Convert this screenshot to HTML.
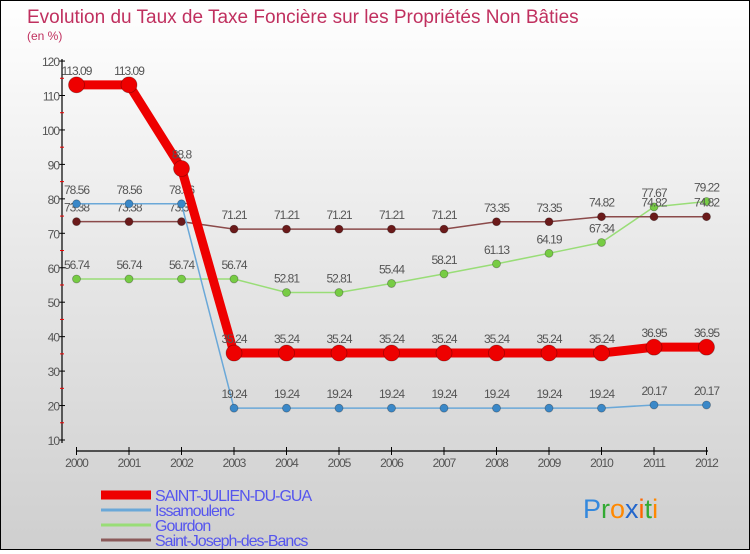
<!DOCTYPE html>
<html><head><meta charset="utf-8">
<style>
body{margin:0;width:750px;height:550px;overflow:hidden;font-family:"Liberation Sans",sans-serif;}
#wrap{position:relative;width:748px;height:548px;border:1px solid #000;background:linear-gradient(#ffffff 0%,#e6e6e6 50%,#cfcfcf 100%);}
</style></head>
<body>
<div id="wrap">
<svg id="chart" width="748" height="548"></svg>
</div>
<script>
const years=[2000,2001,2002,2003,2004,2005,2006,2007,2008,2009,2010,2011,2012];
const yTicks=[10,20,30,40,50,60,70,80,90,100,110,120];
const stJulien=[113.09,113.09,88.8,35.24,35.24,35.24,35.24,35.24,35.24,35.24,35.24,36.95,36.95];
const issamoulenc=[78.56,78.56,78.56,19.24,19.24,19.24,19.24,19.24,19.24,19.24,19.24,20.17,20.17];
const gourdon=[56.74,56.74,56.74,56.74,52.81,52.81,55.44,58.21,61.13,64.19,67.34,77.67,79.22];
const stJoseph=[73.38,73.38,73.38,71.21,71.21,71.21,71.21,71.21,73.35,73.35,74.82,74.82,74.82];
const seriesNames=["SAINT-JULIEN-DU-GUA","Issamoulenc","Gourdon","Saint-Joseph-des-Bancs"];

const NS="http://www.w3.org/2000/svg";
const svg=document.getElementById('chart');
function X(i){return 75.5+i*52.5;}
function Y(v){return 439-(v-10)*3.445;}
function mk(tag,attrs,parent){const e=document.createElementNS(NS,tag);for(const k in attrs)e.setAttribute(k,attrs[k]);(parent||svg).appendChild(e);return e;}
function txt(s,x,y,attrs,name){const t=mk('text',Object.assign({x:x,y:y,'font-family':'Liberation Sans, sans-serif'},attrs));t.textContent=s;

return t;}

txt('Evolution du Taux de Taxe Foncière sur les Propriétés Non Bâties',26,22,{'font-size':19,fill:'#c0305f'},'chart-title');
txt('(en %)',26,39,{'font-size':12,fill:'#c0305f'},'chart-subtitle');

let a=mk('line',{x1:61,y1:58,x2:61,y2:442,stroke:'#000','stroke-width':1.2});


a=mk('line',{x1:75,y1:450,x2:707,y2:450,stroke:'#000','stroke-width':1.2});


yTicks.forEach((v,i)=>{
  let t=mk('line',{x1:58,y1:Y(v),x2:64,y2:Y(v),stroke:'#000'});
  
  
  txt(String(v),58,Y(v)+5,{'font-size':12,fill:'#555','text-anchor':'end','letter-spacing':'-1'},'y-tick-label');
  if(i<yTicks.length-1){let m=mk('line',{x1:59,y1:Y(v+5),x2:63,y2:Y(v+5),stroke:'#e00'});
  
  }
});
years.forEach((yr,i)=>{
  let t=mk('line',{x1:X(i),y1:446,x2:X(i),y2:454,stroke:'#000'});
  
  
  txt(String(yr),X(i),466,{'font-size':12,fill:'#555','text-anchor':'middle','letter-spacing':'-1'},'x-tick-label');
});

function series(vals,color,dot,w,r,name){
  const g=mk('g',{});
  
  
  const p=mk('polyline',{points:vals.map((v,i)=>X(i)+','+Y(v)).join(' '),fill:'none',stroke:color,'stroke-width':w,'stroke-linejoin':'round'},g);
  
  
  vals.forEach((v,i)=>{
    const c=mk('circle',{cx:X(i),cy:Y(v),r:r,fill:dot,stroke:'rgba(0,0,0,0.3)','stroke-width':0.8},g);
    
    
    txt(String(v),X(i),Y(v)-10,{'font-size':12,fill:'#555','text-anchor':'middle','letter-spacing':'-1'},name+'-value-label');
  });
}
series(gourdon,'#99dd77','#77cc44',1.5,4,'gourdon');
series(stJoseph,'#8b4a4a','#6b1a1a',1.5,4,'saint-joseph');
series(issamoulenc,'#6aa8d8','#3a88c8',1.5,4,'issamoulenc');
series(stJulien,'#ee0000','#ee0000',9,8,'saint-julien');

const legColors=['#ee0000','#6aa8d8','#99dd77','#8b5a5a'];
const legW=[9,3,3,3];
seriesNames.forEach((n,i)=>{
  const y=494+i*15;
  const l=mk('line',{x1:100,y1:y,x2:150,y2:y,stroke:legColors[i],'stroke-width':legW[i]});
  
  
  txt(n,154,y+6,{'font-size':16,fill:'#5555ee','letter-spacing':'-1'},'legend-entry');
});
const logo=mk('text',{x:582,y:517,'font-size':27,'font-family':'Liberation Sans, sans-serif'});


[['P','#3388dd'],['r','#33aa33'],['o','#ff8800'],['x','#2266cc'],['i','#ff6600'],['t','#33aa33'],['i','#ff8800']].forEach(([c,f])=>{const s=mk('tspan',{fill:f},logo);s.textContent=c;});
</script>
</body></html>
